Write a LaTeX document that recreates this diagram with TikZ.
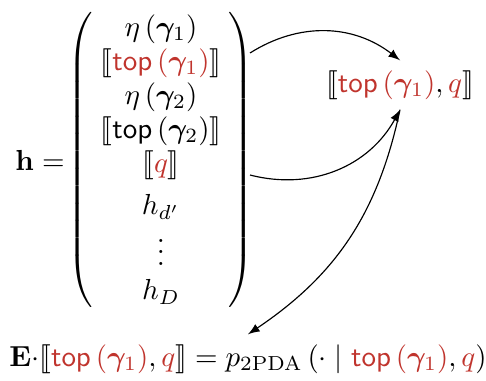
\documentclass[tikz,border=0pt]{standalone}
\usepackage{amsmath,amssymb,bm,stmaryrd}
\usetikzlibrary{matrix}
\definecolor{hred}{RGB}{192,52,45}
\newcommand{\hr}[1]{\textcolor{hred}{#1}}
\newcommand{\topg}[1]{\mathsf{top}\left(\bm{\gamma}_{#1}\right)}
\tikzset{
  conn/.style={-latex, line width=0.4pt},
}
\begin{document}
\begin{tikzpicture}[x=0.345pt,y=-0.345pt]
\useasboundingbox (0,0) rectangle (486,380);
\node (heq) at (40,160) {$\mathbf{h} =$};
\matrix (m) at (161,161) [matrix of math nodes,
  nodes={inner sep=0pt, text height=7.5pt, text depth=2.5pt},
  row sep=1.72pt, inner xsep=1.2pt, inner ysep=0pt,
  left delimiter=(, right delimiter=)] {
  \eta\left(\bm{\gamma}_1\right) \\
  \llbracket \hr{\topg{1}} \rrbracket \\
  \eta\left(\bm{\gamma}_2\right) \\
  \llbracket \topg{2} \rrbracket \\
  \llbracket \hr{q} \rrbracket \\[2.94pt]
  h_{d'} \\[2.94pt]
  \raisebox{-2.7pt}{$\vdots$} \\[2.94pt]
  h_D \\
};
\node (tgt) at (400,85) {$\llbracket \hr{\topg{1}}, \hr{q} \rrbracket$};
\node (bot) at (248,359) {$\mathbf{E}{\cdot}\llbracket \hr{\topg{1}}, \hr{q} \rrbracket = p_{\text{2PDA}}\left(\cdot \mid \hr{\topg{1}}, \hr{q}\right)$};
\coordinate (s1) at (250,53);
\coordinate (s2) at (250,175);
\draw[conn] (s1) to[bend left=35] (tgt.north);
\draw[conn] (s2) to[bend right=38] (tgt.south);
\draw[conn] (tgt.south) to[bend left=22] (bot.north);
\end{tikzpicture}
\end{document}
